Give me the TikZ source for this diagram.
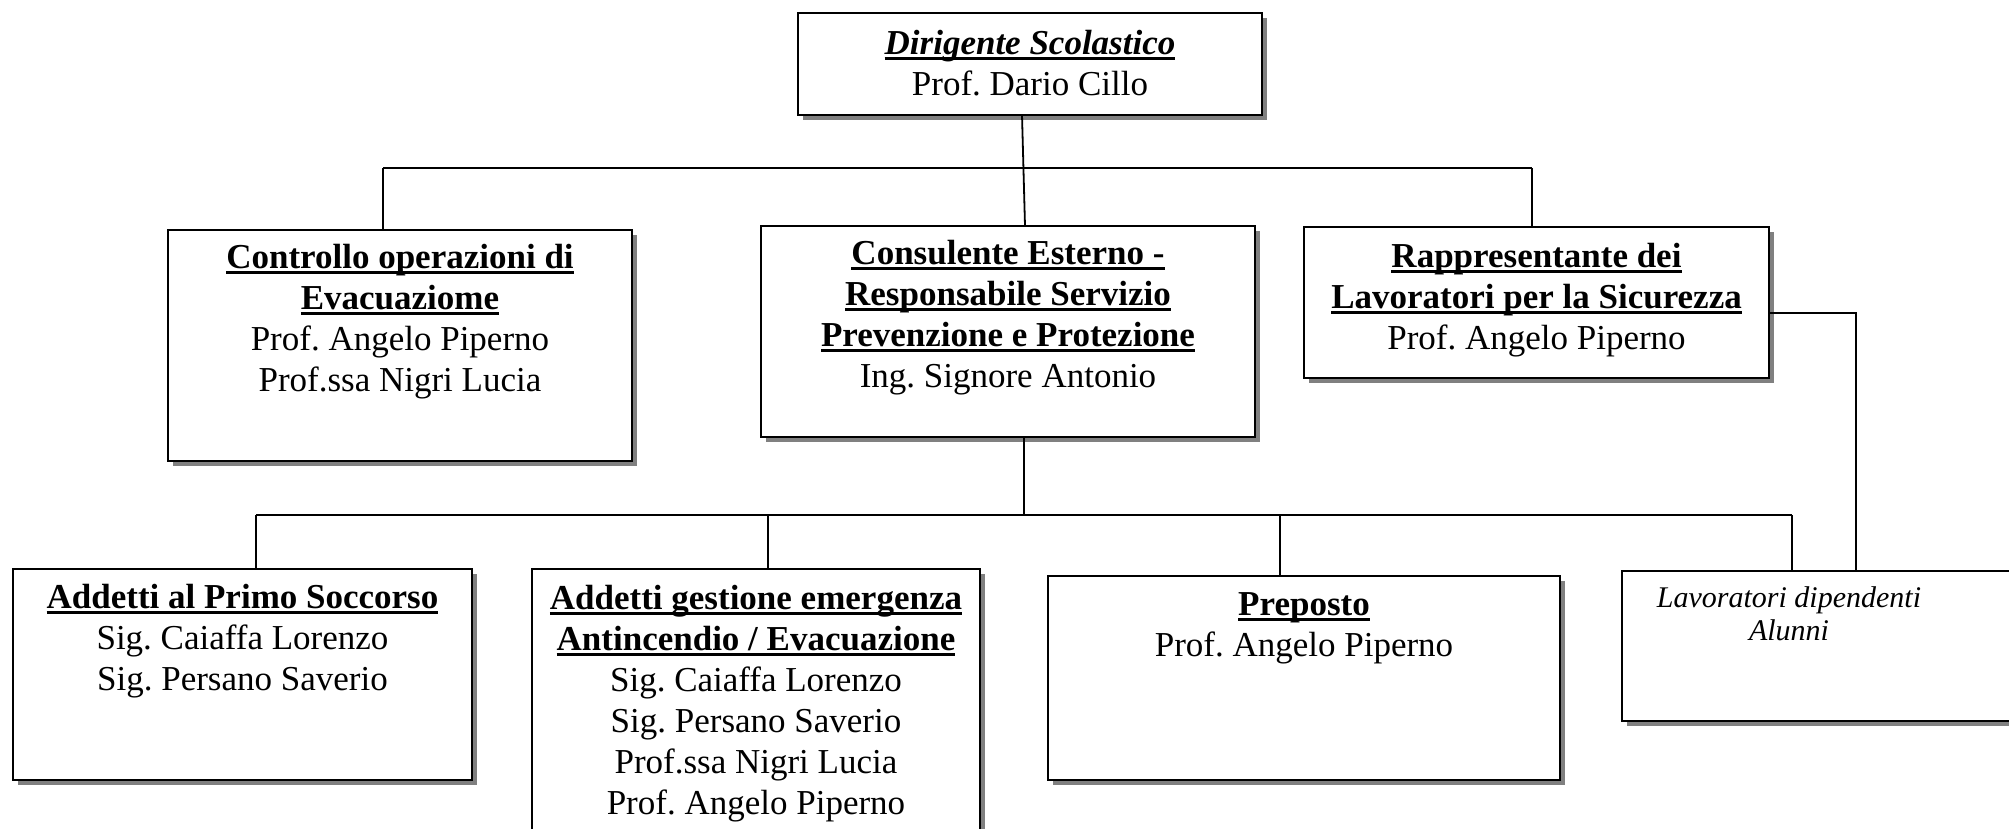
\documentclass[tikz,border=0pt]{standalone}
\usepackage{fontspec}
\setmainfont{Liberation Serif}
\usetikzlibrary{shadows}
\frenchspacing
\newcommand{\ulin}[1]{\leavevmode\setbox0\hbox{#1}\rlap{\vrule height -2.5pt depth 5.5pt width \wd0}\box0}
\newcommand{\bx}[4]{\parbox[t][#2][t]{#1}{\centering\rule{0pt}{#3}#4}}
\tikzset{
  orgbox/.style={draw=black, line width=2pt, fill=white, inner sep=0pt, outer sep=0pt,
    anchor=north west,
    drop shadow={shadow xshift=5pt, shadow yshift=-5pt, fill=black!50, opacity=1}},
  conn/.style={draw=black, line width=1.8pt},
  every node/.style={font=\fontsize{35pt}{41pt}\selectfont\frenchspacing}
}
\begin{document}
\begin{tikzpicture}[x=1pt,y=-1pt]
\fill[white] (0,0) rectangle (2009,828);
\useasboundingbox (0,0) rectangle (2009,828);
\clip (0,0) rectangle (2009,828);

\node[orgbox] (dir) at (798,13) {\bx{464pt}{102pt}{41pt}{\ulin{\textbf{\textit{Dirigente Scolastico}}}\\Prof. Dario Cillo}};

\node[orgbox] (ctrl) at (168,230) {\bx{464pt}{231pt}{38pt}{\ulin{\textbf{Controllo operazioni di}}\\\ulin{\textbf{Evacuaziome}}\\Prof. Angelo Piperno\\Prof.ssa Nigri Lucia}};

\node[orgbox] (cons) at (761,226) {\bx{494pt}{211pt}{38pt}{\ulin{\textbf{Consulente Esterno -}}\\\ulin{\textbf{Responsabile Servizio}}\\\ulin{\textbf{Prevenzione e Protezione}}\\Ing. Signore Antonio}};

\node[orgbox] (rapp) at (1304,227) {\bx{465pt}{151pt}{40pt}{\ulin{\textbf{Rappresentante dei}}\\\ulin{\textbf{Lavoratori per la Sicurezza}}\\Prof. Angelo Piperno}};

\node[orgbox] (soc) at (13,569) {\bx{459pt}{211pt}{39pt}{\ulin{\textbf{Addetti al Primo Soccorso}}\\Sig. Caiaffa Lorenzo\\Sig. Persano Saverio}};

\node[orgbox] (gest) at (532,569) {\bx{448pt}{320pt}{40pt}{\ulin{\textbf{Addetti gestione emergenza}}\\\ulin{\textbf{Antincendio / Evacuazione}}\\Sig. Caiaffa Lorenzo\\Sig. Persano Saverio\\Prof.ssa Nigri Lucia\\Prof. Angelo Piperno}};

\node[orgbox] (prep) at (1048,576) {\bx{512pt}{204pt}{39pt}{\ulin{\textbf{Preposto}}\\Prof. Angelo Piperno}};

\node[orgbox] (lav) at (1622,571) {\itshape\fontsize{30pt}{33pt}\selectfont\parbox[t][150pt][t]{400pt}{\rule{0pt}{36pt}\parbox[t]{334pt}{\centering Lavoratori dipendenti\\Alunni}}};

% upper level connectors
\coordinate (b1L) at (383,168);
\coordinate (b1R) at (1532,168);
\draw[conn] (b1L) -- (b1R);
\draw[conn] (b1L) -- (ctrl.north -| b1L);
\draw[conn] (b1R) -- (rapp.north -| b1R);
\draw[conn] ([xshift=-8pt]dir.south) -- ([xshift=17pt]cons.north);

% lower level connectors
\coordinate (b2) at (1024,515);
\coordinate (b2L) at (256,515);
\coordinate (b2a) at (768,515);
\coordinate (b2b) at (1280,515);
\coordinate (b2R) at (1792,515);
\draw[conn] (cons.south -| b2) -- (b2);
\draw[conn] (b2L) -- (b2R);
\draw[conn] (b2L) -- (soc.north -| b2L);
\draw[conn] (b2a) -- (gest.north -| b2a);
\draw[conn] (b2b) -- (prep.north -| b2b);
\draw[conn] (b2R) -- (lav.north -| b2R);

% RLS to workers
\coordinate (rv) at (1856,313);
\draw[conn] (rapp.east |- rv) -- (rv) -- (lav.north -| rv);
\end{tikzpicture}
\end{document}
